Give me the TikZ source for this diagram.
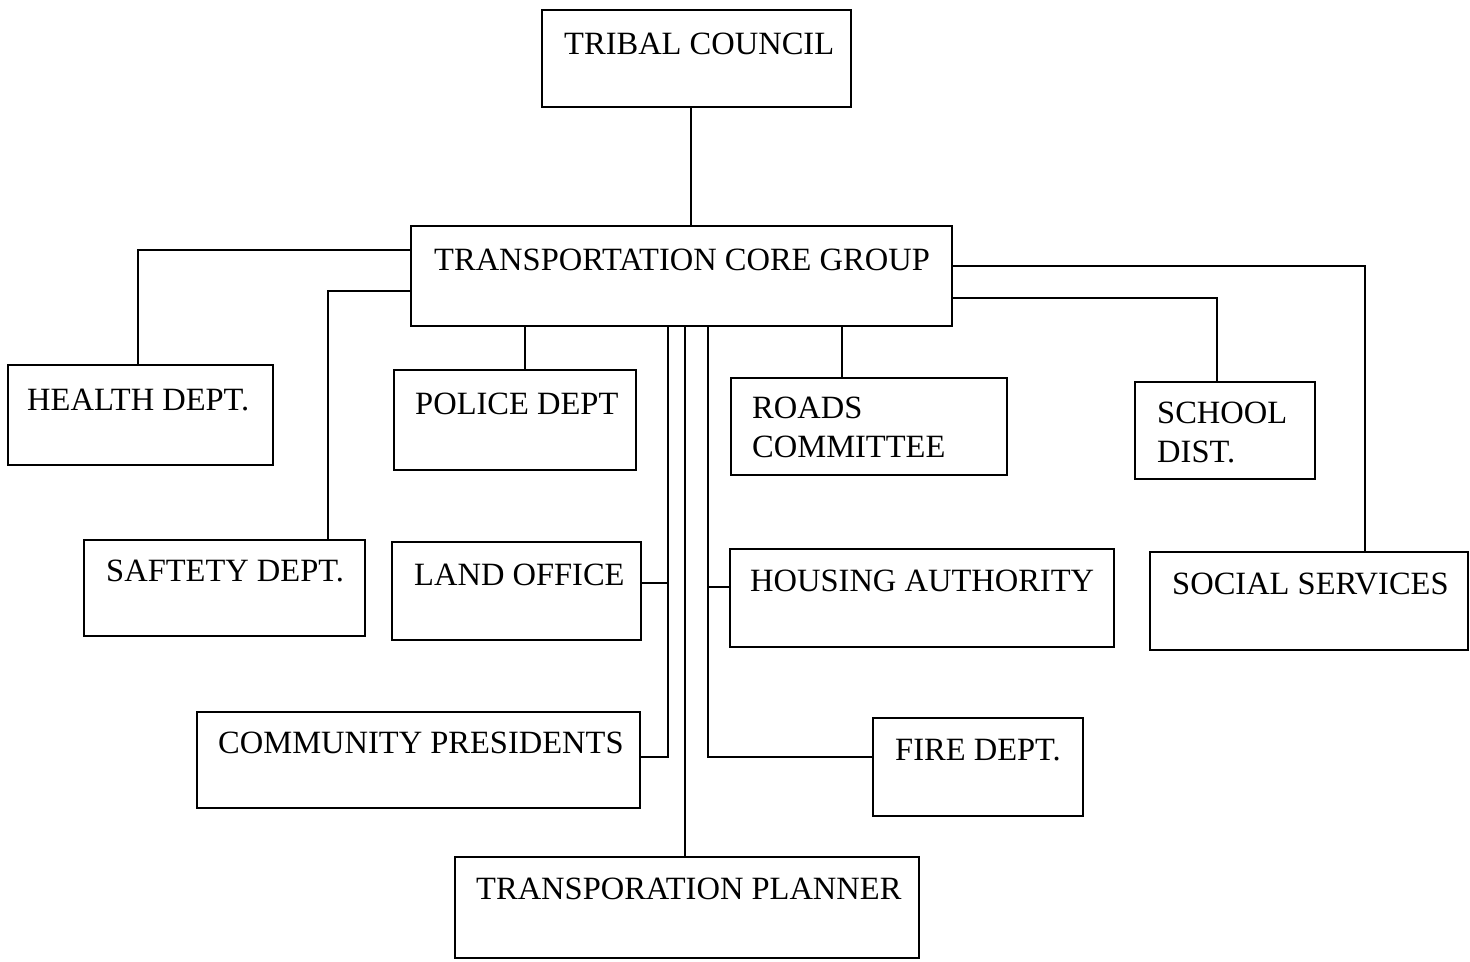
\documentclass[tikz,border=0pt]{standalone}
\usepackage{fontspec}
\setmainfont{Liberation Serif}
\usetikzlibrary{positioning}

\tikzset{
  box/.style 2 args={draw, line width=1.3pt, minimum width=#1*0.02cm, minimum height=#2*0.02cm, inner sep=0pt},
  txt/.style={anchor=north west, inner sep=0pt, align=left, font=\fontsize{18.5}{21.8}\selectfont},
  link/.style={line width=1.3pt}
}

\begin{document}
\begin{tikzpicture}[x=0.02cm, y=-0.02cm]
  \useasboundingbox (0,0) rectangle (1470,962);

  % Cajas principales
  \node[box={309}{97}] (tribal) at (696.5,58.5) {};
  \node[box={541}{100}] (core) at (681.5,276) {};

  % Primera fila
  \node[box={265}{100}] (health) at (140.5,415) {};
  \node[box={242}{100}] (police) at (515,420) {};
  \node[box={276}{97}] (roads) at (869,426.5) {};
  \node[box={180}{97}] (school) at (1225,430.5) {};

  % Segunda fila
  \node[box={281}{96}] (safety) at (224.5,588) {};
  \node[box={249}{98}] (land) at (516.5,591) {};
  \node[box={384}{98}] (housing) at (922,598) {};
  \node[box={318}{98}] (social) at (1309,601) {};

  % Filas inferiores
  \node[box={443}{96}] (community) at (418.5,760) {};
  \node[box={210}{98}] (fire) at (978,767) {};
  \node[box={464}{101}] (planner) at (687,907.5) {};

  % Textos
  \node[txt] (tribalT) at ([shift={(23,24)}]tribal.north west) {TRIBAL COUNCIL};
  \node[txt] (coreT) at ([shift={(24,24)}]core.north west) {TRANSPORTATION CORE GROUP};
  \node[txt] (healthT) at ([shift={(20,25)}]health.north west) {HEALTH DEPT.};
  \node[txt] (policeT) at ([shift={(22,24)}]police.north west) {POLICE DEPT};
  \node[txt] (roadsT) at ([shift={(22,20)}]roads.north west) {ROADS\\COMMITTEE};
  \node[txt] (schoolT) at ([shift={(23,21)}]school.north west) {SCHOOL\\DIST.};
  \node[txt] (safetyT) at ([shift={(23,21)}]safety.north west) {SAFTETY DEPT.};
  \node[txt] (landT) at ([shift={(23,23)}]land.north west) {LAND OFFICE};
  \node[txt] (housingT) at ([shift={(21,22)}]housing.north west) {HOUSING AUTHORITY};
  \node[txt] (socialT) at ([shift={(23,22)}]social.north west) {SOCIAL SERVICES};
  \node[txt] (communityT) at ([shift={(22,21)}]community.north west) {COMMUNITY PRESIDENTS};
  \node[txt] (fireT) at ([shift={(23,22)}]fire.north west) {FIRE DEPT.};
  \node[txt] (plannerT) at ([shift={(22,22)}]planner.north west) {TRANSPORATION PLANNER};

  % Lineas
  \draw[link] (tribal.south -| 691,0) -- (core.north -| 691,0);
  \draw[link] (core.west |- 0,250) -| (health.north -| 138,0);
  \draw[link] (core.west |- 0,291) -| (safety.north -| 328,0);
  \draw[link] (core.south -| 525,0) -- (police.north -| 525,0);
  \draw[link] (core.south -| 842,0) -- (roads.north -| 842,0);
  \draw[link] (core.east |- 0,298) -| (school.north -| 1217,0);
  \draw[link] (core.east |- 0,266) -| (social.north -| 1365,0);

  % Troncos centrales
  \draw[link] (core.south -| 668,0) |- (community.east |- 0,757);
  \draw[link] (land.east |- 0,583) -- (668,583);
  \draw[link] (core.south -| 685,0) -- (planner.north -| 685,0);
  \draw[link] (core.south -| 708,0) |- (fire.west |- 0,757);
  \draw[link] (housing.west |- 0,587) -- (708,587);
\end{tikzpicture}
\end{document}
